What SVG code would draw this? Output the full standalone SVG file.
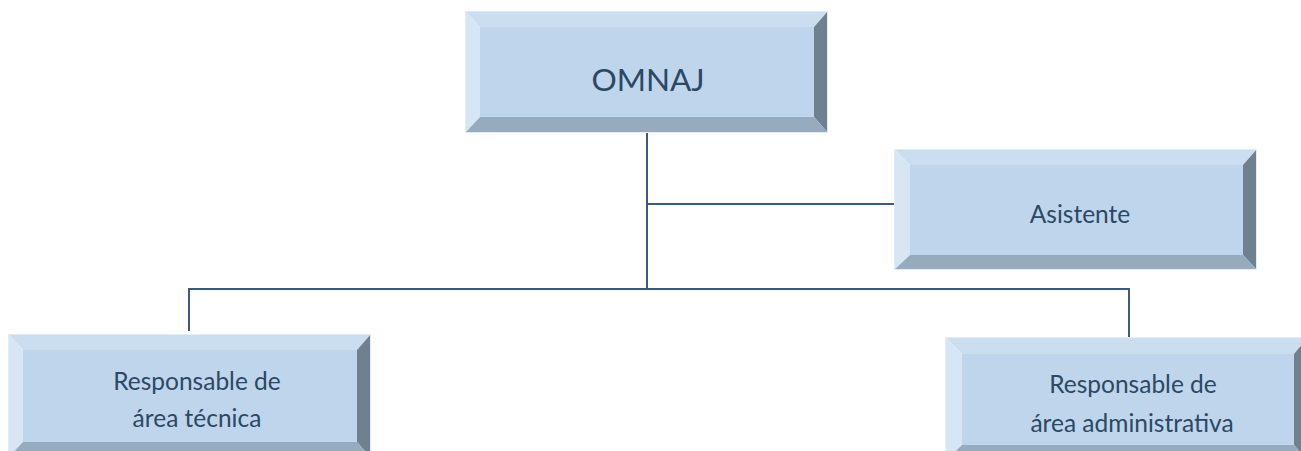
<svg xmlns="http://www.w3.org/2000/svg" width="1301" height="451" viewBox="0 0 1301 451">
<style>
.top{fill:#cadef0}
.lft{fill:#d7e6f5}
.face{fill:#bfd5eb}
.rgt{fill:#6f8191}
.bot{fill:#97abbf}
.edge{fill:none;stroke:#e1ecf7;stroke-width:1}
.lbl{font-family:Lato,"Open Sans","Liberation Sans",sans-serif;fill:#2b4865;text-anchor:middle}
.sm{font-size:24.5px}
.conn{stroke:#3d5b78;stroke-width:2;fill:none}
</style>
<rect x="0" y="0" width="1301" height="451" fill="#ffffff"/>
<g id="connectors">
<line class="conn" x1="647" y1="133" x2="647" y2="290"/>
<line class="conn" x1="647" y1="204" x2="894" y2="204"/>
<line class="conn" x1="189" y1="289" x2="1129" y2="289"/>
<line class="conn" x1="189" y1="288" x2="189" y2="331"/>
<line class="conn" x1="1129" y1="288" x2="1129" y2="337"/>
</g>
<g id="omnaj">
<polygon class="top" points="465,11 828,11 814,27 480,27"/>
<polygon class="lft" points="465,11 480,27 480,117 465,133"/>
<polygon class="rgt" points="828,11 828,133 814,117 814,27"/>
<polygon class="bot" points="465,133 480,117 814,117 828,133"/>
<rect class="face" x="480" y="27" width="334" height="90"/>
<rect class="edge" x="465.5" y="11.5" width="362" height="121"/>
<text class="lbl" x="648" y="91" font-size="31.5">OMNAJ</text>
</g>
<g id="asistente">
<polygon class="top" points="894,149 1257,149 1243,165 910,165"/>
<polygon class="lft" points="894,149 910,165 910,255 894,270"/>
<polygon class="rgt" points="1257,149 1257,270 1243,255 1243,165"/>
<polygon class="bot" points="894,270 910,255 1243,255 1257,270"/>
<rect class="face" x="910" y="165" width="333" height="90"/>
<rect class="edge" x="894.5" y="149.5" width="362" height="120"/>
<text class="lbl sm" x="1080" y="223">Asistente</text>
</g>
<g id="tecnica">
<polygon class="top" points="8,334 371,334 357,350 23,350"/>
<polygon class="lft" points="8,334 23,350 23,442 8,458"/>
<polygon class="rgt" points="371,334 371,458 357,442 357,350"/>
<polygon class="bot" points="8,458 23,442 357,442 371,458"/>
<rect class="face" x="23" y="350" width="334" height="92"/>
<rect class="edge" x="8.5" y="334.5" width="362" height="123"/>
<text class="lbl sm" x="197" y="390">Responsable de</text>
<text class="lbl sm" x="197" y="427">área técnica</text>
</g>
<g id="administrativa">
<polygon class="top" points="945,337 1308,337 1294,354 962,354"/>
<polygon class="lft" points="945,337 962,354 962,445 945,461"/>
<polygon class="rgt" points="1308,337 1308,461 1294,445 1294,354"/>
<polygon class="bot" points="945,461 962,445 1294,445 1308,461"/>
<rect class="face" x="962" y="354" width="332" height="91"/>
<rect class="edge" x="945.5" y="337.5" width="362" height="123"/>
<text class="lbl sm" x="1133" y="393">Responsable de</text>
<text class="lbl sm" x="1132" y="432">área administrativa</text>
</g>
</svg>
